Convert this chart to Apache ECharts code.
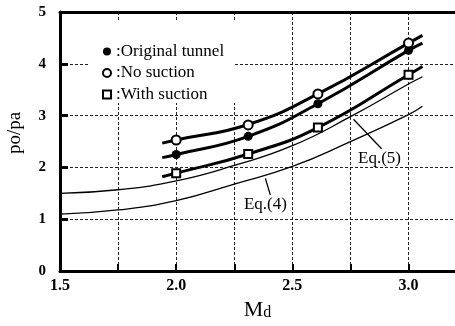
<!DOCTYPE html>
<html>
<head>
<meta charset="utf-8">
<script src="https://cdn.jsdelivr.net/npm/echarts@6/dist/echarts.min.js"></script>
<style>
  html, body { margin: 0; padding: 0; background: #fff; }
  #chart { width: 455px; height: 326px; }
</style>
</head>
<body>
<div id="chart"></div>
<script>
// Measured points: design Mach number Md vs. starting pressure ratio po/pa
var machPoints = [2.0, 2.31, 2.61, 3.0];
var originalTunnel = [2.25, 2.60, 3.23, 4.26];
var noSuction = [2.53, 2.82, 3.42, 4.40];
var withSuction = [1.89, 2.26, 2.77, 3.79];

// Fitted curves through each measured set (Md, po/pa)
var fitNoSuction = [[1.94, 2.47], [2.0, 2.53], [2.31, 2.83], [2.61, 3.42], [3.0, 4.40], [3.06, 4.55]];
var fitOriginal = [[1.94, 2.19], [2.0, 2.25], [2.31, 2.60], [2.61, 3.23], [3.0, 4.26], [3.06, 4.40]];
var fitSuction = [[1.94, 1.82], [2.0, 1.89], [2.31, 2.26], [2.61, 2.77], [3.0, 3.79], [3.06, 3.95]];

// Theoretical curves
var eq5Curve = [[1.5, 1.50], [1.75, 1.57], [2.0, 1.74], [2.25, 2.04], [2.5, 2.42], [2.75, 2.98], [3.0, 3.61], [3.06, 3.75]];
var eq4Curve = [[1.5, 1.10], [1.75, 1.18], [2.0, 1.36], [2.25, 1.68], [2.5, 2.02], [2.75, 2.50], [3.0, 3.02], [3.06, 3.18]];

// Annotation arrows: label anchor, arrow tail, arrow head in (Md, po/pa)
var eq5Note = { text: 'Eq.(5)', label: [2.875, 2.18], tail: [2.884, 2.36], head: [2.763, 2.93] };
var eq4Note = { text: 'Eq.(4)', label: [2.384, 1.28], tail: [2.405, 1.47], head: [2.384, 1.79] };

// Axis ranges (the Md axis runs off the right edge of the frame)
var xTicks = { min: 1.5, max: 3.2, step: 0.25 };
var yTicks = { min: 0, max: 5, step: 1 };

var SERIF = '"Liberation Serif", "DejaVu Serif", serif';

function pairs(xs, ys) {
  return xs.map(function (x, i) { return [x, ys[i]]; });
}

function fitLine(data) {
  return {
    type: 'line', data: data, smooth: true, showSymbol: false, silent: true,
    lineStyle: { color: '#000', width: 3 }, z: 3
  };
}

function eqLine(data, note) {
  return {
    type: 'line', data: data, smooth: true, showSymbol: false, silent: true,
    lineStyle: { color: '#000', width: 1.3 }, z: 3,
    markLine: {
      silent: true, animation: false,
      symbolSize: [0, 9],
      lineStyle: { color: '#000', width: 1.3, type: 'solid' },
      label: { show: false },
      data: [[
        { coord: note.tail, symbol: 'none' },
        { coord: note.head, symbol: 'arrow' }
      ]]
    }
  };
}

var chart = echarts.init(document.getElementById('chart'), null, { renderer: 'canvas' });

var gridLineStyle = { color: '#222', width: 1, type: [3, 2] };

var option = {
  animation: false,
  backgroundColor: '#fff',
  grid: { left: 60, top: 12, bottom: 42, right: 0 },
  legend: {
    orient: 'vertical',
    left: 88, top: 21,
    padding: [22, 11, 0, 14],
    backgroundColor: '#fff',
    itemWidth: 8, itemHeight: 8, itemGap: 4.5,
    selectedMode: false,
    formatter: function (name) { return ':' + name; },
    textStyle: { fontFamily: SERIF, fontSize: 17, color: '#000', lineHeight: 17 },
    data: [
      { name: 'Original tunnel', icon: 'circle', itemStyle: { color: '#000', borderWidth: 0 } },
      { name: 'No suction', icon: 'circle', itemStyle: { color: '#fff', borderColor: '#000', borderWidth: 2 } },
      { name: 'With suction', icon: 'rect', itemStyle: { color: '#fff', borderColor: '#000', borderWidth: 2 } }
    ]
  },
  xAxis: [{
    type: 'value', position: 'bottom',
    min: xTicks.min, max: xTicks.max, interval: xTicks.step,
    name: '{m|M}{d|d}', nameLocation: 'middle', nameGap: 19,
    nameTextStyle: {
      rich: {
        m: { fontFamily: SERIF, fontSize: 22, color: '#000', verticalAlign: 'bottom', lineHeight: 22 },
        d: { fontFamily: SERIF, fontSize: 16, color: '#000', verticalAlign: 'bottom', lineHeight: 22 }
      }
    },
    axisLine: { show: true, onZero: false, lineStyle: { color: '#000', width: 3 } },
    axisTick: { show: true, inside: true, length: 7, lineStyle: { color: '#000', width: 2 } },
    axisLabel: {
      interval: 0, margin: 7, showMaxLabel: false,
      fontFamily: SERIF, fontSize: 16, fontWeight: 'bold', color: '#000',
      formatter: function (v) {
        var twice = v * 2;
        return Math.abs(twice - Math.round(twice)) < 1e-6 ? v.toFixed(1) : '';
      }
    },
    splitLine: { show: true, lineStyle: gridLineStyle }
  }, {
    // top frame line
    type: 'value', position: 'top',
    min: xTicks.min, max: xTicks.max, interval: xTicks.step,
    axisLine: { show: true, onZero: false, lineStyle: { color: '#000', width: 3 } },
    axisTick: { show: false }, axisLabel: { show: false }, splitLine: { show: false }
  }],
  yAxis: {
    type: 'value', min: yTicks.min, max: yTicks.max, interval: yTicks.step,
    axisLine: { show: true, onZero: false, lineStyle: { color: '#000', width: 3 } },
    axisTick: { show: true, inside: true, length: 8, lineStyle: { color: '#000', width: 3 } },
    axisLabel: { margin: 14, fontFamily: SERIF, fontSize: 15, fontWeight: 'bold', color: '#000' },
    splitLine: { show: true, lineStyle: gridLineStyle }
  },
  series: [
    fitLine(fitNoSuction),
    fitLine(fitOriginal),
    fitLine(fitSuction),
    eqLine(eq5Curve, eq5Note),
    eqLine(eq4Curve, eq4Note),
    {
      name: 'Original tunnel', type: 'scatter', data: pairs(machPoints, originalTunnel),
      symbol: 'circle', symbolSize: 9, z: 5,
      itemStyle: { color: '#000', opacity: 1 }
    },
    {
      name: 'No suction', type: 'scatter', data: pairs(machPoints, noSuction),
      symbol: 'circle', symbolSize: 9, z: 5,
      itemStyle: { color: '#fff', borderColor: '#000', borderWidth: 2, opacity: 1 }
    },
    {
      name: 'With suction', type: 'scatter', data: pairs(machPoints, withSuction),
      symbol: 'rect', symbolSize: 8, z: 5,
      itemStyle: { color: '#fff', borderColor: '#000', borderWidth: 2, opacity: 1 }
    }
  ]
};

chart.setOption(option);

// Curve labels and the rotated y-axis title
function noteText(note) {
  var p = chart.convertToPixel({ xAxisIndex: 0, yAxisIndex: 0 }, note.label);
  return {
    type: 'text', x: p[0], y: p[1], silent: true, z: 10,
    style: { text: note.text, fontFamily: SERIF, fontSize: 17, fill: '#000', align: 'center', verticalAlign: 'middle' }
  };
}

chart.setOption({
  graphic: [
    noteText(eq5Note),
    noteText(eq4Note),
    {
      type: 'text', x: 15, y: 133, rotation: Math.PI / 2, silent: true,
      style: { text: 'po/pa', fontFamily: SERIF, fontSize: 19, fill: '#000', align: 'center', verticalAlign: 'middle' }
    }
  ]
});
</script>
</body>
</html>
